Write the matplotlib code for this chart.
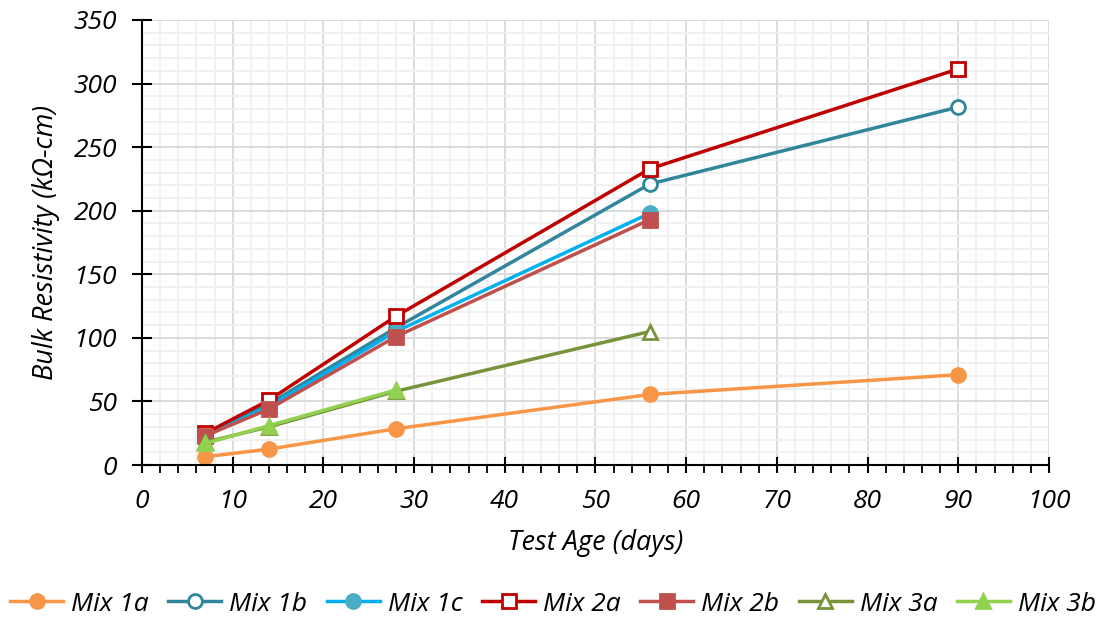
import matplotlib
matplotlib.use('agg')
import matplotlib.pyplot as plt
from matplotlib.ticker import MultipleLocator

plt.rcParams['font.family'] = ['Open Sans', 'DejaVu Sans']
plt.rcParams['font.style'] = 'italic'

# dados
mixes = ['Mix 1a', 'Mix 1b', 'Mix 1c', 'Mix 2a', 'Mix 2b', 'Mix 3a', 'Mix 3b']
idade_1a = [7, 14, 28, 56, 90]
res_1a = [6.5, 12.5, 28.5, 55.5, 71]
idade_1b = [7, 14, 28, 56, 90]
res_1b = [24, 48, 108, 221, 281.5]
idade_1c = [7, 14, 28, 56]
res_1c = [23, 46, 105, 198]
idade_2a = [7, 14, 28, 56, 90]
res_2a = [25, 51, 117, 233, 311.5]
idade_2b = [7, 14, 28, 56]
res_2b = [23, 44, 101, 193]
idade_3a = [7, 14, 28, 56]
res_3a = [18, 30, 58, 105]
idade_3b = [7, 14, 28]
res_3b = [17, 31, 59]

cores_linha = ['#F79646', '#31859C', '#00B0F0', '#C00000', '#C0504D', '#77933C', '#92D050']
cores_marca = ['#F79646', '#31859C', '#4BACC6', '#C00000', '#C0504D', '#77933C', '#92D050']
marcas = ['o', 'o', 'o', 's', 's', '^', '^']
cheio = [True, False, True, False, True, False, True]

fig = plt.figure(figsize=(11.06, 6.21), dpi=100)
ax = fig.add_axes([0.1284, 0.2512, 0.82, 0.7166])

series = [(idade_1a, res_1a), (idade_1b, res_1b), (idade_1c, res_1c), (idade_2a, res_2a),
          (idade_2b, res_2b), (idade_3a, res_3a), (idade_3b, res_3b)]
for i, (x, y) in enumerate(series):
    ax.plot(x, y, color=cores_linha[i], lw=2.5, marker=marcas[i], markersize=10,
            markerfacecolor=cores_marca[i] if cheio[i] else 'white',
            markeredgecolor=cores_marca[i], markeredgewidth=2, label=mixes[i])

ax.set_xlim(0, 100)
ax.set_ylim(0, 350)
ax.xaxis.set_major_locator(MultipleLocator(10))
ax.xaxis.set_minor_locator(MultipleLocator(2))
ax.yaxis.set_major_locator(MultipleLocator(50))
ax.yaxis.set_minor_locator(MultipleLocator(10))
ax.grid(which='major', color='#D9D9D9', lw=1.3, zorder=0)
ax.grid(which='minor', color='#F0F0F0', lw=1.3, zorder=0)
ax.set_axisbelow(True)

for s in ['top', 'right']:
    ax.spines[s].set_visible(False)
for s in ['left', 'bottom']:
    ax.spines[s].set_linewidth(1.5)
    ax.spines[s].set_color('black')

ax.tick_params(axis='x', which='major', direction='inout', length=12, width=1.5, labelsize=19, pad=11)
ax.tick_params(axis='x', which='minor', direction='out', length=6, width=1.3)
ax.tick_params(axis='y', which='major', direction='inout', length=14, width=1.5, labelsize=19, pad=11)
ax.tick_params(axis='y', which='minor', length=0)

ax.set_xlabel('Test Age (days)', fontsize=19.5, labelpad=11)
ax.set_ylabel('Bulk Resistivity (kΩ-cm)', fontsize=19.5, labelpad=10)

fig.legend(*ax.get_legend_handles_labels(), loc='center', bbox_to_anchor=(0.5, 0.027), ncol=7,
           frameon=False, fontsize=19, handlelength=2.0, columnspacing=0.75, handletextpad=0.3)

fig.savefig('out.png', dpi=100)
